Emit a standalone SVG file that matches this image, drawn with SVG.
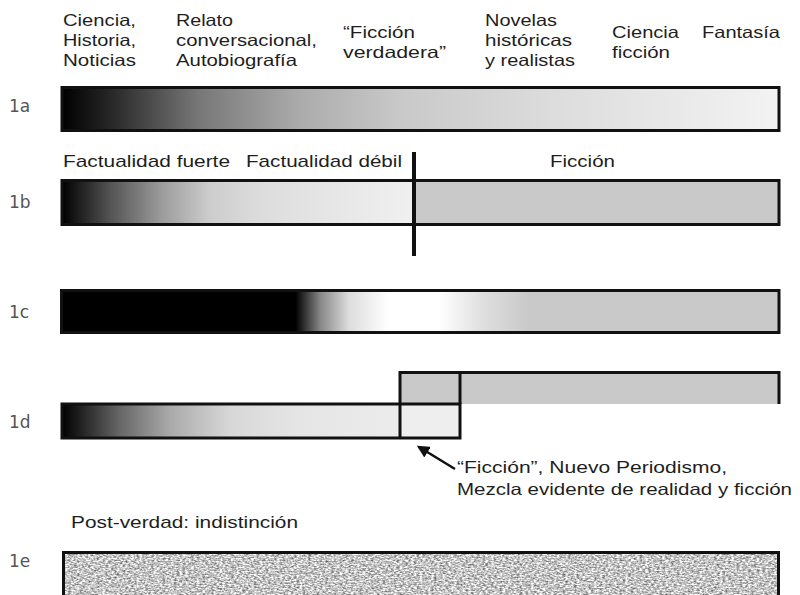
<svg xmlns="http://www.w3.org/2000/svg" width="800" height="595" viewBox="0 0 800 595">
<style>
.t{font-family:"Liberation Sans",Arial,sans-serif;font-size:16.5px;fill:#1e1e1e}
.n{font-family:"Liberation Sans",Arial,sans-serif;font-size:17px;fill:#1e1e1e}
.lb{font-family:"DejaVu Sans",sans-serif;font-size:17px;fill:#555}
.bar{stroke:#111;stroke-width:3;fill:none}
</style>
<defs>
<linearGradient id="g1a" gradientUnits="userSpaceOnUse" x1="62" y1="0" x2="780" y2="0">
<stop offset="0" stop-color="#000"/>
<stop offset="0.06" stop-color="#222"/>
<stop offset="0.19" stop-color="#777"/>
<stop offset="0.33" stop-color="#ababab"/>
<stop offset="0.47" stop-color="#c9c9c9"/>
<stop offset="0.68" stop-color="#dcdcdc"/>
<stop offset="1" stop-color="#f3f3f3"/>
</linearGradient>
<linearGradient id="g1b" gradientUnits="userSpaceOnUse" x1="62" y1="0" x2="414" y2="0">
<stop offset="0" stop-color="#000"/>
<stop offset="0.14" stop-color="#555"/>
<stop offset="0.28" stop-color="#9a9a9a"/>
<stop offset="0.42" stop-color="#cdcdcd"/>
<stop offset="0.56" stop-color="#dcdcdc"/>
<stop offset="0.76" stop-color="#e6e6e6"/>
<stop offset="1" stop-color="#f0f0f0"/>
</linearGradient>
<linearGradient id="g1c" gradientUnits="userSpaceOnUse" x1="62" y1="0" x2="780" y2="0">
<stop offset="0" stop-color="#000"/>
<stop offset="0.325" stop-color="#000"/>
<stop offset="0.36" stop-color="#888"/>
<stop offset="0.40" stop-color="#ddd"/>
<stop offset="0.455" stop-color="#fff"/>
<stop offset="0.525" stop-color="#fff"/>
<stop offset="0.59" stop-color="#ddd"/>
<stop offset="0.65" stop-color="#c9c9c9"/>
<stop offset="1" stop-color="#c9c9c9"/>
</linearGradient>
<linearGradient id="g1d" gradientUnits="userSpaceOnUse" x1="62" y1="0" x2="400" y2="0">
<stop offset="0" stop-color="#000"/>
<stop offset="0.17" stop-color="#666"/>
<stop offset="0.32" stop-color="#aaa"/>
<stop offset="0.5" stop-color="#d8d8d8"/>
<stop offset="0.7" stop-color="#e5e5e5"/>
<stop offset="1" stop-color="#ececec"/>
</linearGradient>
<filter id="noise" filterUnits="userSpaceOnUse" x="63" y="551" width="716" height="44" color-interpolation-filters="sRGB">
<feTurbulence type="fractalNoise" baseFrequency="0.35 0.7" numOctaves="2" seed="3"/>
<feColorMatrix type="matrix" values="1.1 0 0 0 0.22  1.1 0 0 0 0.22  1.1 0 0 0 0.22  0 0 0 0 1"/>
</filter>
<marker id="ah" viewBox="0 0 10 10" refX="8" refY="5" markerWidth="5" markerHeight="5" orient="auto">
<path d="M0,0 L10,5 L0,10 z" fill="#111"/>
</marker>
</defs>

<g id="header-labels">
<text class="t" x="63" y="26" textLength="73" lengthAdjust="spacingAndGlyphs">Ciencia,</text>
<text class="t" x="63" y="46" textLength="73" lengthAdjust="spacingAndGlyphs">Historia,</text>
<text class="t" x="63" y="66" textLength="73" lengthAdjust="spacingAndGlyphs">Noticias</text>
<text class="t" x="176" y="26" textLength="57" lengthAdjust="spacingAndGlyphs">Relato</text>
<text class="t" x="176" y="45.5" textLength="141" lengthAdjust="spacingAndGlyphs">conversacional,</text>
<text class="t" x="176" y="65.5" textLength="121" lengthAdjust="spacingAndGlyphs">Autobiografía</text>
<text class="t" x="343" y="37.5" textLength="72" lengthAdjust="spacingAndGlyphs">“Ficción</text>
<text class="t" x="343" y="57.5" textLength="103" lengthAdjust="spacingAndGlyphs">verdadera”</text>
<text class="t" x="485" y="26" textLength="72" lengthAdjust="spacingAndGlyphs">Novelas</text>
<text class="t" x="485" y="46" textLength="87" lengthAdjust="spacingAndGlyphs">históricas</text>
<text class="t" x="485" y="66" textLength="90" lengthAdjust="spacingAndGlyphs">y realistas</text>
<text class="t" x="612" y="37.5" textLength="67" lengthAdjust="spacingAndGlyphs">Ciencia</text>
<text class="t" x="612" y="57.5" textLength="58" lengthAdjust="spacingAndGlyphs">ficción</text>
<text class="t" x="702" y="37.5" textLength="78" lengthAdjust="spacingAndGlyphs">Fantasía</text>
</g>

<g id="row-1a">
<text class="lb" x="9" y="112">1a</text>
<rect x="62" y="87.5" width="717" height="43" class="bar" style="fill:url(#g1a)"/>
</g>

<g id="row-1b">
<text class="n" x="63" y="167" textLength="167" lengthAdjust="spacingAndGlyphs">Factualidad fuerte</text>
<text class="n" x="246" y="167" textLength="156" lengthAdjust="spacingAndGlyphs">Factualidad débil</text>
<text class="n" x="550" y="167" textLength="65" lengthAdjust="spacingAndGlyphs">Ficción</text>
<text class="lb" x="9" y="208">1b</text>
<rect x="62" y="180.5" width="352" height="44" style="fill:url(#g1b)"/>
<rect x="414" y="180.5" width="365" height="44" fill="#c9c9c9"/>
<rect x="62" y="180.5" width="717" height="44" class="bar"/>
<line x1="414" y1="152" x2="414" y2="256" stroke="#111" stroke-width="4"/>
</g>

<g id="row-1c">
<text class="lb" x="9" y="318">1c</text>
<rect x="61.5" y="290.5" width="717.5" height="42" class="bar" style="fill:url(#g1c)"/>
</g>

<g id="row-1d">
<text class="lb" x="9" y="428">1d</text>
<rect x="62" y="404" width="338" height="34" style="fill:url(#g1d)"/>
<rect x="400" y="404" width="60" height="34" fill="#eeeeee"/>
<rect x="400" y="372" width="379" height="32" fill="#c9c9c9"/>
<path d="M62,404 H460 V438 H62 Z" class="bar"/>
<path d="M400,438 V372.5 H779 V404" class="bar"/>
<line x1="460" y1="372.5" x2="460" y2="404" class="bar"/>
</g>

<g id="connectors">
<line x1="455" y1="469" x2="419" y2="447" stroke="#111" stroke-width="2.5" marker-end="url(#ah)"/>
</g>

<g id="note-1d">
<text class="t" x="457" y="473" textLength="270" lengthAdjust="spacingAndGlyphs">“Ficción”, Nuevo Periodismo,</text>
<text class="t" x="457" y="495" textLength="335" lengthAdjust="spacingAndGlyphs">Mezcla evidente de realidad y ficción</text>
</g>

<g id="row-1e">
<text class="n" x="71" y="528" textLength="227" lengthAdjust="spacingAndGlyphs">Post-verdad: indistinción</text>
<text class="lb" x="9" y="567">1e</text>
<rect x="63" y="551" width="716" height="44" fill="#bbb" filter="url(#noise)"/>
<path d="M63.5,597 V552.5 H778.5 V597" class="bar"/>
</g>
</svg>
